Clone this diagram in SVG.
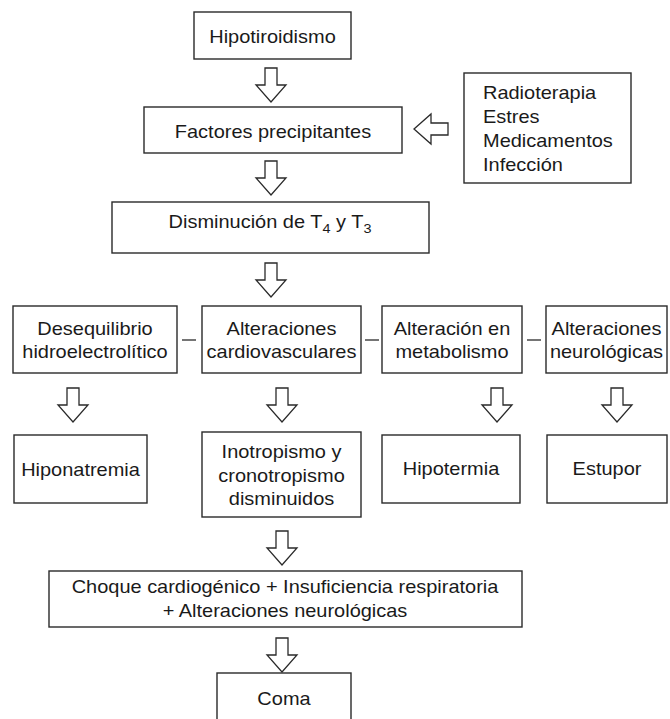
<svg xmlns="http://www.w3.org/2000/svg" xmlns:xlink="http://www.w3.org/1999/xlink" width="670" height="719" viewBox="0 0 670 719">
<style>
  .box { fill: none; stroke: #2a2a2a; stroke-width: 1.4; }
  .t { font-family: "Liberation Sans", Arial, sans-serif; font-size: 18px; fill: #1a1a1a; text-anchor: middle; }
  .ts { font-family: "Liberation Sans", Arial, sans-serif; font-size: 18px; fill: #1a1a1a; text-anchor: start; }
  .arrow { fill: #ffffff; stroke: #2a2a2a; stroke-width: 1.3; stroke-linejoin: miter; }
  .dash { stroke: #2a2a2a; stroke-width: 1.3; }
</style>
<defs>
  <path id="darrow" d="M -6 0 H 6 V 17 H 15 L 0 34 L -15 17 H -6 Z"/>
</defs>
<rect x="0" y="0" width="670" height="719" fill="#ffffff"/>

<g id="connectors">
  <use xlink:href="#darrow" class="arrow" transform="translate(271,68)"/>
  <use xlink:href="#darrow" class="arrow" transform="translate(271,161)"/>
  <use xlink:href="#darrow" class="arrow" transform="translate(271,263)"/>
  <use xlink:href="#darrow" class="arrow" transform="translate(73,388)"/>
  <use xlink:href="#darrow" class="arrow" transform="translate(282,388)"/>
  <use xlink:href="#darrow" class="arrow" transform="translate(497,388)"/>
  <use xlink:href="#darrow" class="arrow" transform="translate(617,388)"/>
  <use xlink:href="#darrow" class="arrow" transform="translate(282,531)"/>
  <use xlink:href="#darrow" class="arrow" transform="translate(282,638)"/>
  <use xlink:href="#darrow" class="arrow" transform="translate(448,129) rotate(90)"/>
  <line class="dash" x1="182" y1="340" x2="196" y2="340"/>
  <line class="dash" x1="365" y1="340" x2="379" y2="340"/>
  <line class="dash" x1="527" y1="340" x2="541" y2="340"/>
</g>

<g id="hipotiroidismo">
  <rect class="box" x="194" y="12" width="157" height="47"/>
  <text class="t" transform="translate(272.5,43) scale(1.11,1)">Hipotiroidismo</text>
</g>
<g id="factores">
  <rect class="box" x="144" y="107" width="258" height="46"/>
  <text class="t" transform="translate(273,138) scale(1.11,1)">Factores precipitantes</text>
</g>
<g id="causas">
  <rect class="box" x="464" y="73" width="167" height="110"/>
  <text class="ts" transform="translate(483,99) scale(1.11,1)">Radioterapia</text>
  <text class="ts" transform="translate(483,123) scale(1.11,1)">Estres</text>
  <text class="ts" transform="translate(483,147) scale(1.11,1)">Medicamentos</text>
  <text class="ts" transform="translate(483,171) scale(1.11,1)">Infección</text>
</g>
<g id="disminucion">
  <rect class="box" x="112" y="202" width="317" height="51"/>
  <text class="t" transform="translate(270,228) scale(1.11,1)">Disminución de T<tspan font-size="13" dy="5">4</tspan><tspan dy="-5"> y T</tspan><tspan font-size="13" dy="5">3</tspan></text>
</g>
<g id="desequilibrio">
  <rect class="box" x="13" y="306" width="164" height="67"/>
  <text class="t" transform="translate(95,335) scale(1.11,1)">Desequilibrio</text>
  <text class="t" transform="translate(95,358) scale(1.11,1)">hidroelectrolítico</text>
</g>
<g id="cardiovasculares">
  <rect class="box" x="202" y="306" width="159" height="67"/>
  <text class="t" transform="translate(281.5,335) scale(1.11,1)">Alteraciones</text>
  <text class="t" transform="translate(281.5,358) scale(1.11,1)">cardiovasculares</text>
</g>
<g id="metabolismo">
  <rect class="box" x="382" y="306" width="140" height="67"/>
  <text class="t" transform="translate(452,335) scale(1.11,1)">Alteración en</text>
  <text class="t" transform="translate(452,358) scale(1.11,1)">metabolismo</text>
</g>
<g id="neurologicas">
  <rect class="box" x="546" y="306" width="121" height="67"/>
  <text class="t" transform="translate(606.5,335) scale(1.11,1)">Alteraciones</text>
  <text class="t" transform="translate(606.5,358) scale(1.11,1)">neurológicas</text>
</g>
<g id="hiponatremia">
  <rect class="box" x="14" y="435" width="133" height="68"/>
  <text class="t" transform="translate(80.5,476) scale(1.11,1)">Hiponatremia</text>
</g>
<g id="inotropismo">
  <rect class="box" x="202" y="432" width="159" height="85"/>
  <text class="t" transform="translate(281.5,458) scale(1.11,1)">Inotropismo y</text>
  <text class="t" transform="translate(281.5,482) scale(1.11,1)">cronotropismo</text>
  <text class="t" transform="translate(281.5,505) scale(1.11,1)">disminuidos</text>
</g>
<g id="hipotermia">
  <rect class="box" x="382" y="435" width="138" height="68"/>
  <text class="t" transform="translate(451,475) scale(1.11,1)">Hipotermia</text>
</g>
<g id="estupor">
  <rect class="box" x="547" y="435" width="120" height="68"/>
  <text class="t" transform="translate(607,475) scale(1.11,1)">Estupor</text>
</g>
<g id="choque">
  <rect class="box" x="49" y="571" width="473" height="56"/>
  <text class="t" transform="translate(285,593) scale(1.11,1)">Choque cardiogénico + Insuficiencia respiratoria</text>
  <text class="t" transform="translate(285,617) scale(1.11,1)">+ Alteraciones neurológicas</text>
</g>
<g id="coma">
  <rect class="box" x="217" y="673" width="134" height="60"/>
  <text class="t" transform="translate(284,705) scale(1.11,1)">Coma</text>
</g>
</svg>
